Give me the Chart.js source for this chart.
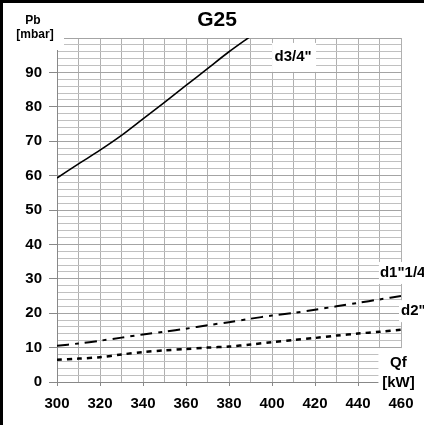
<!DOCTYPE html>
<html>
<head>
<meta charset="utf-8">
<script src="https://cdn.jsdelivr.net/npm/chart.js@4.4.1/dist/chart.umd.min.js"></script>
<style>
body{margin:0;background:#fff;}
#wrap{position:relative;width:424px;height:425px;}
#frame{position:absolute;left:0;top:0;width:424px;height:425px;border-left:3px solid #000;border-top:3px solid #000;box-sizing:border-box;pointer-events:none;}
</style>
</head>
<body>
<div id="wrap"><canvas id="g25"></canvas><div id="frame"></div></div>
<script>
// Qf [kW] / Pb [mbar]
var kw = [300,310,320,330,340,350,360,370,380,390,400,410,420,430,440,450,460];
var d34 = [59.3,63.4,67.4,71.7,76.5,81.3,86.2,91.1,96,100.5];
var d114 = [10.5,11.2,12,12.9,13.8,14.6,15.5,16.5,17.4,18.4,19.3,20.1,21,22,23,24,25];
var d2 = [6.5,6.8,7.2,8,8.7,9.2,9.6,10,10.3,10.9,11.6,12.2,12.8,13.5,14.1,14.6,15.2];

var FONT = '"Liberation Sans", Arial, sans-serif';

function pts(vals){
	var out = [];
	for(var i in vals){ out.push({x: kw[i], y: vals[i]}); }
	return out;
}

// text boxes with white background, placed in data units
var boxLabels = [
	{text:['d3/4"'], x:409.8, y:94.5, align:'center', box:[-21,-14,44,29]},
	{text:['d1"1/4'], x:450.2, y:31.7, align:'left', box:[-1,-11,50,22]},
	{text:['d2"'], x:460, y:20.6, align:'left', box:[-2,-11,30,22]},
	{text:['Qf','[kW]'], x:458.8, y:5.5, align:'center', box:[-20,-15,50,48]}
];

var labelsPlugin = {
	id:'labels',
	afterDatasetsDraw:function(chart){
		var ctx = chart.ctx, xs = chart.scales.x, ys = chart.scales.y;
		ctx.save();
		ctx.textBaseline = 'middle';
		for(var i in boxLabels){
			var l = boxLabels[i];
			var px = xs.getPixelForValue(l.x), py = ys.getPixelForValue(l.y);
			ctx.fillStyle = '#fff';
			ctx.fillRect(px + l.box[0], py + l.box[1], l.box[2], l.box[3]);
			ctx.fillStyle = '#000';
			ctx.font = 'bold 15px ' + FONT;
			ctx.textAlign = l.align;
			for(var j in l.text){ ctx.fillText(l.text[j], px, py + j * 20); }
		}
		var a = chart.chartArea;
		ctx.fillStyle = '#fff';
		ctx.fillRect(3, 3, a.left + 4, a.top + 9);
		ctx.fillStyle = '#000';
		ctx.textAlign = 'center';
		ctx.font = 'bold 12px ' + FONT;
		ctx.fillText('Pb', a.left - 24, 21);
		ctx.fillText('[mbar]', a.left - 22, 35);
		ctx.font = 'bold 21px ' + FONT;
		ctx.fillText('G25', chart.width / 2 + 5, 20);
		ctx.restore();
	}
};

var chartdata = {
	datasets:[
		{label:'d3/4"', data:pts(d34), borderColor:'#000', borderWidth:1.6, pointRadius:0, tension:0.3},
		{label:'d1"1/4', data:pts(d114), borderColor:'#000', borderWidth:2, borderDash:[12,6,4,6], pointRadius:0, tension:0.3},
		{label:'d2"', data:pts(d2), borderColor:'#000', borderWidth:2.5, borderDash:[5,5], pointRadius:0, tension:0.3}
	]
};

var ctx = document.getElementById('g25');
var graph = new Chart(ctx, {
	type:'line',
	data:chartdata,
	plugins:[labelsPlugin],
	options:{
		responsive:true,
		maintainAspectRatio:false,
		animation:false,
		layout:{padding:{left:0, top:38, right:23, bottom:0}},
		plugins:{legend:{display:false}, tooltip:{enabled:false}},
		scales:{
			x:{
				type:'linear', min:300, max:460,
				afterFit:function(s){ s.height = 43; },
				border:{color:'#888'},
				grid:{color:'#b0b0b0', tickLength:4,
					tickColor:function(c){ return c.tick.value % 20 === 0 ? '#888' : 'rgba(0,0,0,0)'; }},
				ticks:{stepSize:10, maxRotation:0, autoSkip:false, padding:9, color:'#000',
					font:{family:FONT, size:15, weight:'bold'},
					callback:function(v){ return v % 20 === 0 ? v : ''; }}
			},
			y:{
				min:0, max:100,
				afterFit:function(s){ s.width = 57; },
				border:{color:'#888'},
				grid:{tickLength:8,
					color:function(c){ return c.tick.value % 10 === 0 ? '#a4a4a4' : '#c0c0c0'; },
					tickColor:function(c){ return c.tick.value % 10 === 0 && c.tick.value < 100 ? '#888' : 'rgba(0,0,0,0)'; }},
				ticks:{stepSize:2, autoSkip:false, padding:7, color:'#000',
					font:{family:FONT, size:15, weight:'bold'},
					callback:function(v){ return v % 10 === 0 && v < 100 ? v : ''; }}
			}
		}
	}
});
</script>
</body>
</html>
